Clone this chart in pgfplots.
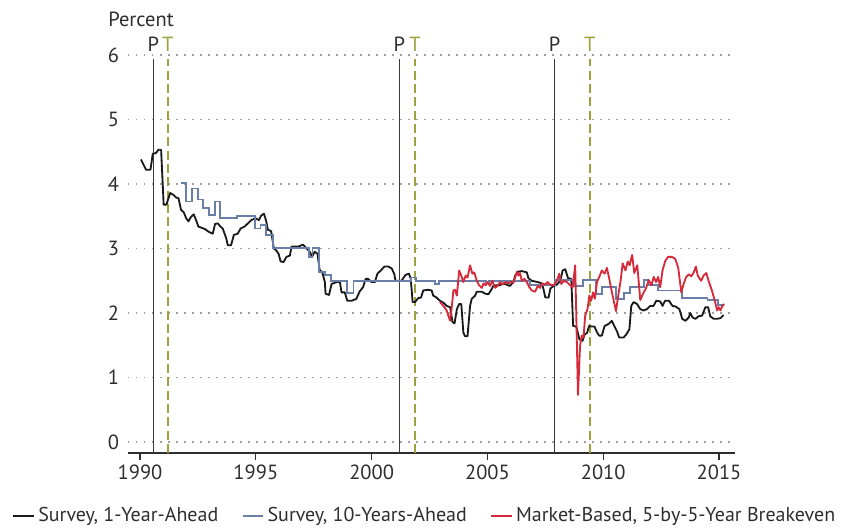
\documentclass[border=0pt]{standalone}
\usepackage{fontspec}
\setmainfont{PT Sans}
\usepackage{pgfplots}
\pgfplotsset{compat=1.18}
\definecolor{svblack}{HTML}{1A1A1A}
\definecolor{svblue}{HTML}{6A7FA8}
\definecolor{mkred}{HTML}{D62A3A}
\definecolor{peakgray}{HTML}{3A3A3A}
\definecolor{troughgreen}{HTML}{9DA23C}
\definecolor{txtgray}{HTML}{2E2E2E}

\begin{document}
\fontsize{12.3}{14}\selectfont
\begin{tikzpicture}
\begin{axis}[
    name=ax,
    scale only axis,
    width=364.2pt, height=250.4pt,
    xmin=1989.48, xmax=2015.69,
    ymin=-0.17, ymax=6.3,
    axis lines*=left,
    y axis line style={draw=none},
    x axis line style={txtgray, line width=0.9pt},
    ytick={0,1,2,3,4,5,6},
    xtick={1990,1995,2000,2005,2010,2015},
    ytick style={draw=none},
    xtick style={txtgray, line width=0.7pt},
    tick align=outside,
    major tick length=4pt,
    /pgf/number format/1000 sep={},
    /pgf/number format/assume math mode=true,
    ticklabel style={font=\fontsize{12.3}{14}\selectfont, text=txtgray},
    yticklabel style={xshift=3pt},
    xticklabel style={yshift=1pt},
    ymajorgrids,
    grid style={gray!75, line width=0.8pt, dash pattern=on 0.9pt off 3.9pt},
    clip=false,
    legend columns=3,
    legend style={draw=none, fill=none, at={(0.49,-0.117)}, anchor=north,
      font=\fontsize{12}{14}\selectfont, text=txtgray, inner ysep=1pt,
      /tikz/every even column/.append style={column sep=12pt}},
    legend image code/.code={\draw[#1] (0pt,0pt) -- (12.5pt,0pt);},
  ]

  % recession peaks (P) and troughs (T)
  \addplot[peakgray, line width=0.75pt, forget plot] coordinates {(1990.58,-0.17) (1990.58,5.94)};
  \addplot[peakgray, line width=0.75pt, forget plot] coordinates {(2001.20,-0.17) (2001.20,5.94)};
  \addplot[peakgray, line width=0.75pt, forget plot] coordinates {(2007.90,-0.17) (2007.90,5.94)};
  \addplot[troughgreen, line width=0.9pt, dash pattern=on 5.4pt off 2.6pt, forget plot] coordinates {(1991.20,-0.17) (1991.20,5.94)};
  \addplot[troughgreen, line width=0.9pt, dash pattern=on 5.4pt off 2.6pt, forget plot] coordinates {(2001.88,-0.17) (2001.88,5.94)};
  \addplot[troughgreen, line width=0.9pt, dash pattern=on 5.4pt off 2.6pt, forget plot] coordinates {(2009.42,-0.17) (2009.42,5.94)};

  % Survey, 1-Year-Ahead
  \addplot[svblack, line width=1.1pt, line join=round] coordinates {
    (1990.04,4.38) (1990.26,4.22) (1990.45,4.22) (1990.55,4.47) (1990.69,4.48)
    (1990.79,4.53) (1990.91,4.53) (1991.02,3.68) (1991.14,3.68) (1991.30,3.86)
    (1991.45,3.83) (1991.56,3.79) (1991.66,3.78) (1991.77,3.60) (1991.89,3.56)
    (1991.99,3.47) (1992.09,3.42) (1992.20,3.49) (1992.32,3.53) (1992.42,3.44)
    (1992.52,3.34) (1992.67,3.32) (1992.81,3.30) (1992.96,3.26) (1993.14,3.23)
    (1993.24,3.38) (1993.36,3.39) (1993.47,3.34) (1993.57,3.31) (1993.72,3.16)
    (1993.79,3.05) (1993.93,3.05) (1994.05,3.21) (1994.22,3.23) (1994.34,3.31)
    (1994.51,3.34) (1994.66,3.39) (1994.80,3.44) (1994.98,3.47) (1995.13,3.44)
    (1995.23,3.51) (1995.35,3.54) (1995.45,3.42) (1995.52,3.29) (1995.66,3.27)
    (1995.78,3.00) (1995.88,2.97) (1995.98,2.92) (1996.07,2.80) (1996.20,2.79)
    (1996.32,2.87) (1996.47,2.89) (1996.54,3.03) (1996.83,3.03) (1997.04,3.06)
    (1997.19,3.00) (1997.33,2.95) (1997.43,2.87) (1997.54,2.95) (1997.66,2.92)
    (1997.76,2.66) (1997.86,2.64) (1997.98,2.48) (1998.01,2.30) (1998.16,2.28)
    (1998.27,2.45) (1998.49,2.48) (1998.63,2.48) (1998.70,2.32) (1998.84,2.32)
    (1998.95,2.19) (1999.13,2.19) (1999.34,2.22) (1999.49,2.34) (1999.63,2.40)
    (1999.74,2.53) (1999.85,2.53) (1999.99,2.48) (2000.14,2.48) (2000.25,2.61)
    (2000.40,2.66) (2000.55,2.72) (2000.72,2.72) (2000.87,2.69) (2000.98,2.60)
    (2001.03,2.50) (2001.29,2.50) (2001.46,2.59) (2001.61,2.61) (2001.69,2.53)
    (2001.77,2.17) (2001.87,2.17) (2002.01,2.23) (2002.13,2.24) (2002.23,2.35)
    (2002.44,2.36) (2002.59,2.35) (2002.66,2.27) (2002.80,2.24) (2002.95,2.19)
    (2003.10,2.16) (2003.24,2.11) (2003.39,2.09) (2003.49,1.86) (2003.58,1.84)
    (2003.68,2.06) (2003.78,2.14) (2003.87,2.14) (2003.96,1.70) (2004.03,1.64)
    (2004.14,1.64) (2004.25,2.11) (2004.32,2.22) (2004.47,2.27) (2004.54,2.33)
    (2004.76,2.33) (2004.90,2.30) (2005.04,2.29) (2005.15,2.35) (2005.25,2.42)
    (2005.39,2.43) (2005.54,2.43) (2005.65,2.46) (2005.83,2.44) (2005.97,2.42)
    (2006.12,2.48) (2006.20,2.58) (2006.31,2.64) (2006.48,2.65) (2006.70,2.63)
    (2006.77,2.54) (2006.91,2.50) (2007.17,2.48) (2007.35,2.46) (2007.42,2.37)
    (2007.50,2.24) (2007.64,2.24) (2007.72,2.38) (2007.86,2.42) (2008.00,2.44)
    (2008.14,2.50) (2008.25,2.66) (2008.36,2.68) (2008.48,2.54) (2008.62,2.53)
    (2008.70,1.80) (2008.84,1.79) (2008.97,1.59) (2009.11,1.57) (2009.20,1.67)
    (2009.30,1.69) (2009.39,1.80) (2009.50,1.79) (2009.62,1.79) (2009.72,1.71)
    (2009.82,1.65) (2009.94,1.65) (2010.06,1.80) (2010.23,1.83) (2010.37,1.88)
    (2010.49,1.79) (2010.59,1.72) (2010.69,1.62) (2010.88,1.62) (2011.00,1.67)
    (2011.13,1.75) (2011.21,2.11) (2011.31,2.17) (2011.46,2.14) (2011.60,2.06)
    (2011.74,2.04) (2011.89,2.06) (2012.03,2.11) (2012.17,2.11) (2012.29,2.19)
    (2012.46,2.18) (2012.56,2.11) (2012.67,2.19) (2012.84,2.19) (2012.99,2.11)
    (2013.13,2.10) (2013.29,2.06) (2013.41,1.91) (2013.55,1.88) (2013.69,1.93)
    (2013.76,2.00) (2013.86,1.93) (2013.98,1.91) (2014.12,1.95) (2014.27,1.96)
    (2014.41,2.09) (2014.53,2.09) (2014.62,1.95) (2014.77,1.91) (2014.91,1.91)
    (2015.06,1.92) (2015.20,1.97)
  };

  % Survey, 10-Years-Ahead (stepwise)
  \addplot[svblue, line width=1.1pt, const plot] coordinates {
    (1991.77,4.02) (1992.00,3.73) (1992.24,3.93) (1992.52,3.76) (1992.72,3.63)
    (1992.97,3.52) (1993.22,3.73) (1993.45,3.47) (1994.18,3.51) (1994.98,3.31)
    (1995.20,3.36) (1995.45,3.21) (1995.75,3.01) (1997.30,2.87) (1997.45,3.01)
    (1997.72,2.64) (1998.00,2.59) (1998.25,2.50) (1998.93,2.31) (1999.22,2.50)
    (2001.70,2.55) (2001.90,2.50) (2002.73,2.45) (2002.90,2.50) (2004.95,2.46)
    (2005.05,2.50) (2006.85,2.44) (2007.90,2.51) (2008.75,2.42) (2009.12,2.51)
    (2009.70,2.30) (2009.95,2.40) (2010.55,2.22) (2010.90,2.31) (2011.15,2.40)
    (2011.75,2.51) (2011.95,2.43) (2012.35,2.35) (2013.40,2.23) (2014.50,2.20)
    (2014.95,2.13) (2015.20,2.13)
  };

  % Market-Based, 5-by-5-Year Breakeven
  \addplot[mkred, line width=1.1pt, line join=round] coordinates {
    (2002.95,2.17) (2003.10,2.11) (2003.24,2.04) (2003.31,1.96) (2003.39,1.88)
    (2003.46,2.09) (2003.53,2.35) (2003.60,2.36) (2003.68,2.27) (2003.78,2.66)
    (2003.87,2.58) (2003.96,2.48) (2004.06,2.58) (2004.14,2.55) (2004.25,2.74)
    (2004.35,2.61) (2004.43,2.63) (2004.54,2.50) (2004.64,2.43) (2004.76,2.39)
    (2004.83,2.46) (2004.93,2.43) (2005.01,2.48) (2005.11,2.42) (2005.21,2.50)
    (2005.33,2.39) (2005.44,2.42) (2005.54,2.48) (2005.65,2.44) (2005.79,2.48)
    (2005.90,2.46) (2006.01,2.48) (2006.12,2.47) (2006.20,2.55) (2006.27,2.64)
    (2006.34,2.58) (2006.41,2.62) (2006.48,2.50) (2006.60,2.53) (2006.70,2.48)
    (2006.81,2.40) (2006.91,2.35) (2007.06,2.33) (2007.17,2.42) (2007.27,2.39)
    (2007.37,2.46) (2007.49,2.44) (2007.60,2.48) (2007.71,2.44) (2007.86,2.43)
    (2008.00,2.50) (2008.10,2.61) (2008.19,2.45) (2008.30,2.50) (2008.43,2.48)
    (2008.57,2.43) (2008.68,2.40) (2008.79,2.74) (2008.91,0.73) (2009.00,1.49)
    (2009.07,1.65) (2009.15,1.62) (2009.22,1.96) (2009.32,2.06) (2009.40,2.27)
    (2009.48,2.19) (2009.56,2.32) (2009.64,2.22) (2009.73,2.48) (2009.83,2.56)
    (2009.94,2.66) (2010.06,2.61) (2010.16,2.70) (2010.26,2.53) (2010.40,2.28)
    (2010.55,2.03) (2010.66,2.30) (2010.75,2.50) (2010.84,2.77) (2010.96,2.66)
    (2011.06,2.80) (2011.14,2.74) (2011.25,2.90) (2011.34,2.62) (2011.47,2.74)
    (2011.60,2.20) (2011.72,2.30) (2011.84,2.38) (2011.97,2.51) (2012.08,2.43)
    (2012.18,2.56) (2012.28,2.48) (2012.37,2.56) (2012.46,2.40) (2012.56,2.66)
    (2012.68,2.81) (2012.80,2.87) (2012.97,2.87) (2013.11,2.84) (2013.24,2.70)
    (2013.37,2.32) (2013.47,2.45) (2013.57,2.55) (2013.69,2.60) (2013.80,2.57)
    (2013.91,2.63) (2014.00,2.72) (2014.08,2.58) (2014.23,2.50) (2014.33,2.58)
    (2014.45,2.62) (2014.55,2.50) (2014.70,2.34) (2014.81,2.20) (2014.92,2.04)
    (2014.98,2.09) (2015.06,2.04) (2015.13,2.10) (2015.22,2.14)
  };

  \legend{Survey{,} 1-Year-Ahead, Survey{,} 10-Years-Ahead, {Market-Based, 5-by-5-Year Breakeven}}

  % P / T labels
  \node[text=txtgray] at (axis cs:1990.58,6.17) {P};
  \node[text=txtgray] at (axis cs:2001.20,6.17) {P};
  \node[text=txtgray] at (axis cs:2007.90,6.17) {P};
  \node[text=troughgreen] at (axis cs:1991.20,6.17) {T};
  \node[text=troughgreen] at (axis cs:2001.88,6.17) {T};
  \node[text=troughgreen] at (axis cs:2009.42,6.17) {T};

  \node[anchor=base west, text=txtgray, inner sep=0pt, xshift=-12pt] at (axis cs:1989.48,6.44) {Percent};
\end{axis}
\pgfresetboundingbox
\path ([xshift=-76.8pt,yshift=-45.6pt]ax.south west) rectangle ++(504.6pt,317.4pt);
\end{tikzpicture}
\end{document}
